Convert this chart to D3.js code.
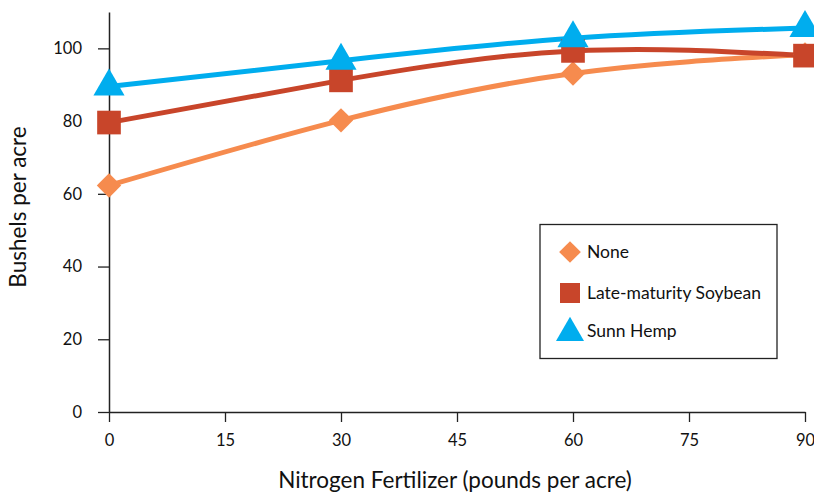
<!DOCTYPE html>
<html>
<head>
<meta charset="utf-8">
<script src="https://cdn.jsdelivr.net/npm/d3@7/dist/d3.min.js"></script>
<style>
  html, body { margin: 0; padding: 0; background: #fff; }
  svg { display: block; font-family: "Lato", "Noto Sans", sans-serif; }
</style>
</head>
<body>
<svg id="chart" width="814" height="494"></svg>
<script>
const nitrogen = [0, 30, 60, 90];
const seriesNames = ["None", "Late-maturity Soybean", "Sunn Hemp"];
const noneValues = [62.3, 80.2, 93.1, 98.3];
const soybeanValues = [79.6, 91.2, 99.3, 98.0];
const sunnHempValues = [89.5, 96.6, 102.8, 105.6];
const xTicks = [0, 15, 30, 45, 60, 75, 90];
const yTicks = [0, 20, 40, 60, 80, 100];
const colors = ["#F68B4E", "#C8452A", "#00ADEE"];
const symbols = [d3.symbolDiamond2, d3.symbolSquare, d3.symbolTriangle];

const svg = d3.select("#chart");
const x = d3.scaleLinear().domain([0, 90]).range([109, 805]);
const y = d3.scaleLinear().domain([0, 110]).range([412, 12]);

// Axes
const yAxis = d3.axisLeft(y).tickValues(yTicks).tickSize(11).tickSizeOuter(0).tickPadding(16);
const yG = svg.append("g").attr("transform", `translate(${x(0)},0)`).call(yAxis);
yG.select(".domain").attr("stroke", "#222").attr("stroke-width", 1.5);
yG.selectAll(".tick line").attr("stroke", "#222").attr("stroke-width", 1.3);
yG.selectAll(".tick text").attr("font-size", 16.5).attr("fill", "#111").attr("font-family", "Lato");

const xAxis = d3.axisBottom(x).tickValues(xTicks).tickSize(10).tickSizeOuter(0).tickPadding(12);
const xG = svg.append("g").attr("transform", `translate(0,${y(0)})`).call(xAxis);
xG.select(".domain").attr("stroke", "#222").attr("stroke-width", 1.5);
xG.selectAll(".tick line").attr("stroke", "#222").attr("stroke-width", 1.3);
xG.selectAll(".tick text").attr("font-size", 16.5).attr("fill", "#111").attr("font-family", "Lato");

// Axis titles
svg.append("text")
  .attr("x", 455).attr("y", 488)
  .attr("text-anchor", "middle")
  .attr("font-size", 22.5).attr("fill", "#111")
  .text("Nitrogen Fertilizer (pounds per acre)");
svg.append("text")
  .attr("transform", "translate(26,207) rotate(-90)")
  .attr("text-anchor", "middle")
  .attr("font-size", 22.5).attr("fill", "#111")
  .text("Bushels per acre");

// Lines + markers
const allSeries = [noneValues, soybeanValues, sunnHempValues];
const line = d3.line().x((d, i) => x(nitrogen[i])).y(d => y(d)).curve(d3.curveNatural);

allSeries.forEach((vals, si) => {
  svg.append("path")
    .attr("d", line(vals))
    .attr("fill", "none")
    .attr("stroke", colors[si])
    .attr("stroke-width", 5);
});

const markerSizes = [380, 560, 420];
allSeries.forEach((vals, si) => {
  svg.append("g").selectAll("path")
    .data(vals)
    .join("path")
    .attr("transform", (d, i) => `translate(${x(nitrogen[i])},${y(d)})`)
    .attr("d", d3.symbol().type(symbols[si]).size(markerSizes[si]))
    .attr("fill", colors[si]);
});

// Legend
const lg = svg.append("g");
lg.append("rect")
  .attr("x", 540).attr("y", 224.5).attr("width", 237).attr("height", 134)
  .attr("fill", "#fff").attr("stroke", "#222").attr("stroke-width", 1.3);
const legendY = [252, 293, 331];
const legendSizes = [300, 400, 340];
seriesNames.forEach((name, i) => {
  lg.append("path")
    .attr("transform", `translate(570,${legendY[i] + (i === 2 ? 2 : 0)})`)
    .attr("d", d3.symbol().type(symbols[i]).size(legendSizes[i]))
    .attr("fill", colors[i]);
  lg.append("text")
    .attr("x", 587).attr("y", legendY[i])
    .attr("dy", "0.35em")
    .attr("font-size", 17.5).attr("fill", "#111")
    .text(name);
});
</script>
</body>
</html>
